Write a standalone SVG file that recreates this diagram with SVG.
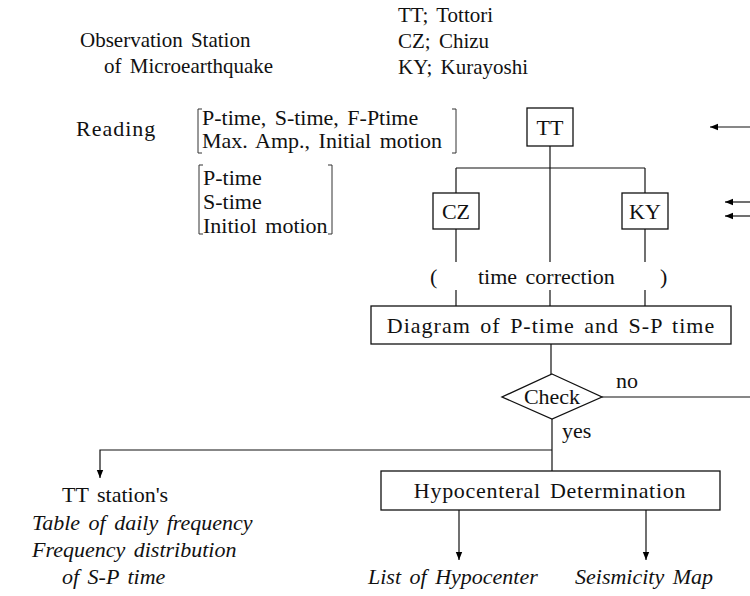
<svg xmlns="http://www.w3.org/2000/svg" width="750" height="596" viewBox="0 0 750 596">
<defs>
<marker id="ah" viewBox="0 0 10 10" refX="10" refY="5" markerWidth="10" markerHeight="8" markerUnits="userSpaceOnUse" orient="auto">
<path d="M0,1 L10,5 L0,9 Z" fill="#000"/>
</marker>
<style>
text{font-family:"Liberation Serif","Times New Roman",serif;fill:#111;font-size:22px;word-spacing:3px}
.hd{font-size:21px}
.it{font-style:italic}
.c{text-anchor:middle}
.box{fill:#fff;stroke:#111;stroke-width:1.3}
.ln{fill:none;stroke:#111;stroke-width:1.2}
.br{fill:none;stroke:#333;stroke-width:1}
</style>
</defs>
<rect width="750" height="596" fill="#fff"/>

<g id="labels">
<text class="hd" x="80" y="47">Observation Station</text>
<text class="hd" x="104" y="73">of Microearthquake</text>
<text class="hd" x="398" y="22">TT; Tottori</text>
<text class="hd" x="398" y="48">CZ; Chizu</text>
<text class="hd" x="398" y="74">KY; Kurayoshi</text>
<text x="76" y="136" letter-spacing="1">Reading</text>
<path class="br" d="M202,109 h-4 v44 h4 M452,109 h4 v44 h-4"/>
<text x="202" y="125">P-time, S-time, F-Ptime</text>
<text x="202" y="148">Max. Amp., Initial motion</text>
<path class="br" d="M203,165 h-4 v69 h4 M328,165 h4 v69 h-4"/>
<text x="203" y="185">P-time</text>
<text x="203" y="209">S-time</text>
<text x="203" y="233">Initiol motion</text>
<text x="430" y="284">(</text>
<text x="478" y="284" word-spacing="5">time correction</text>
<text x="660" y="284">)</text>
<text x="616" y="388">no</text>
<text x="562" y="438">yes</text>
</g>

<g id="connectors">
<line class="ln" x1="550" y1="146" x2="550" y2="262"/>
<line class="ln" x1="550" y1="290" x2="550" y2="306"/>
<line class="ln" x1="456" y1="168" x2="645" y2="168"/>
<line class="ln" x1="456" y1="168" x2="456" y2="193"/>
<line class="ln" x1="645" y1="168" x2="645" y2="193"/>
<line class="ln" x1="456" y1="229" x2="456" y2="262"/>
<line class="ln" x1="456" y1="290" x2="456" y2="306"/>
<line class="ln" x1="645" y1="229" x2="645" y2="262"/>
<line class="ln" x1="645" y1="290" x2="645" y2="306"/>
<line class="ln" x1="551" y1="344" x2="551" y2="374"/>
<line class="ln" x1="602" y1="397" x2="750" y2="397"/>
<line class="ln" x1="552" y1="419" x2="552" y2="471"/>
<path class="ln" d="M552,450 H100 V478" marker-end="url(#ah)"/>
<line class="ln" x1="459" y1="510" x2="459" y2="560" marker-end="url(#ah)"/>
<line class="ln" x1="646" y1="510" x2="646" y2="560" marker-end="url(#ah)"/>
<line class="ln" x1="750" y1="127" x2="710" y2="127" marker-end="url(#ah)"/>
<line class="ln" x1="750" y1="202" x2="725" y2="202" marker-end="url(#ah)"/>
<line class="ln" x1="750" y1="216" x2="725" y2="216" marker-end="url(#ah)"/>
</g>

<g id="node-tt">
<rect class="box" x="527" y="108" width="46" height="38"/>
<text class="c" x="550" y="135">TT</text>
</g>
<g id="node-cz">
<rect class="box" x="433" y="193" width="46" height="36"/>
<text class="c" x="456" y="219">CZ</text>
</g>
<g id="node-ky">
<rect class="box" x="622" y="193" width="46" height="36"/>
<text class="c" x="645" y="219">KY</text>
</g>
<g id="node-diagram">
<rect class="box" x="371" y="306" width="360" height="38"/>
<text class="c" x="551" y="333" letter-spacing="1">Diagram of P-time and S-P time</text>
</g>
<g id="node-check">
<polygon class="box" points="552,374 602,397 552,419 502,397"/>
<text class="c" x="552" y="404">Check</text>
</g>
<g id="node-hypo">
<rect class="box" x="381" y="471" width="339" height="39"/>
<text class="c" x="550" y="498" letter-spacing="0.7">Hypocenteral Determination</text>
</g>
<g id="node-ttstation">
<text x="62" y="502">TT station's</text>
<text class="it" x="32" y="530">Table of daily frequency</text>
<text class="it" x="32" y="557">Frequency distribution</text>
<text class="it" x="62" y="584">of S-P time</text>
</g>
<g id="node-list">
<text class="it" x="368" y="584">List of Hypocenter</text>
</g>
<g id="node-map">
<text class="it" x="575" y="584">Seismicity Map</text>
</g>
</svg>
